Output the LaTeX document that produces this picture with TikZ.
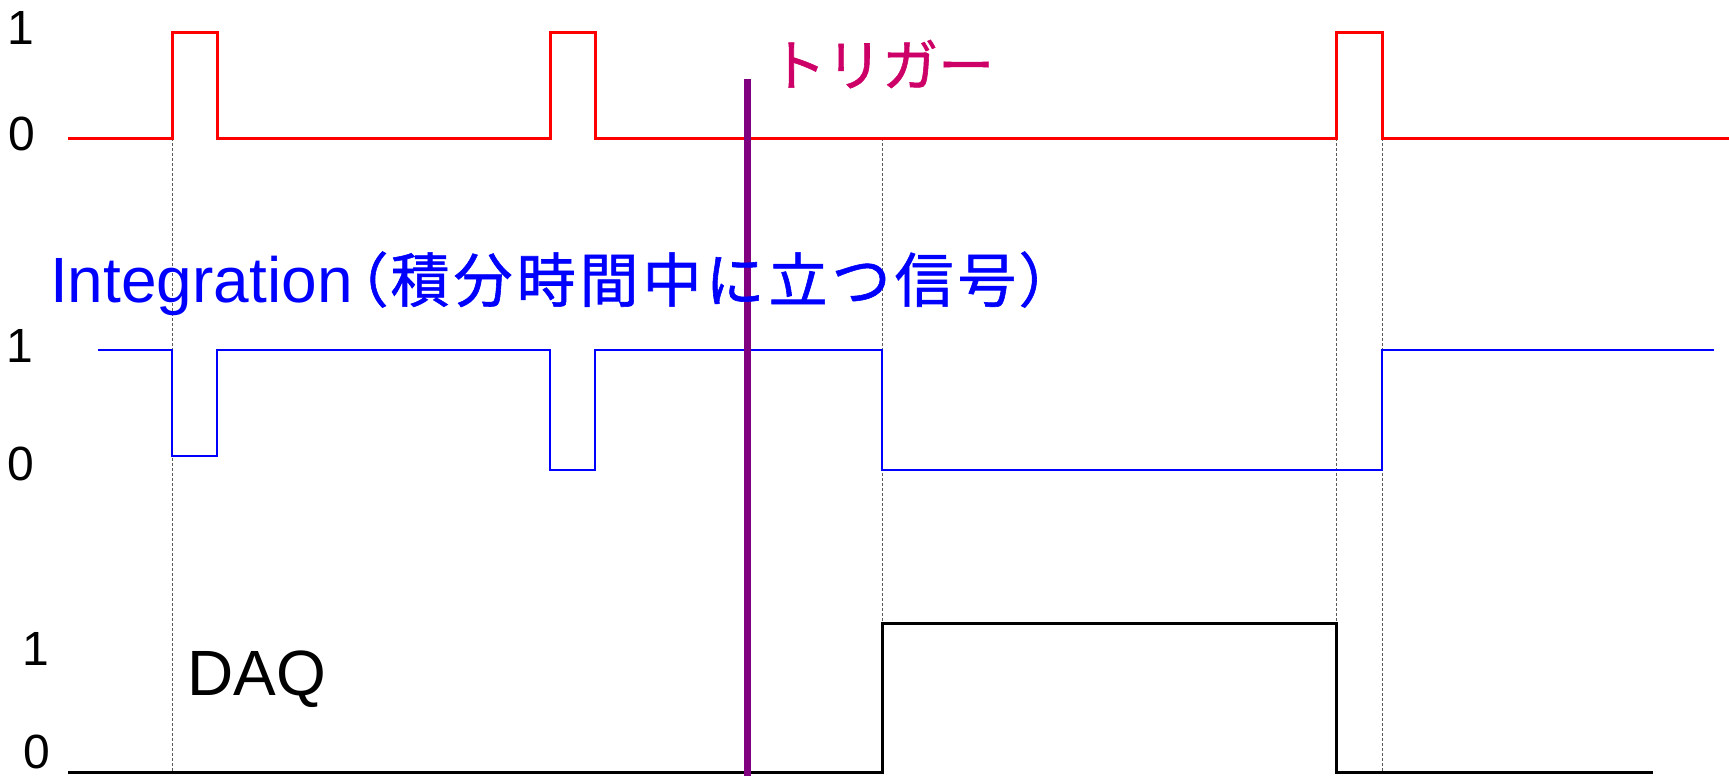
\documentclass[tikz,border=0pt]{standalone}
\usepackage{fontspec}
\setmainfont{Liberation Sans}
\newfontfamily\jp[FakeBold=1]{Noto Sans CJK JP}
\definecolor{trig}{RGB}{204,0,102}
\definecolor{purp}{RGB}{128,0,128}
\newcommand\cjbox[1]{\makebox[63pt]{#1}}
\begin{document}
\begin{tikzpicture}[x=1pt,y=-1pt,
  lbl/.style={font=\fontsize{48}{48}\selectfont, inner sep=0, anchor=base},
  guide/.style={draw=black!65, line width=0.8pt, dash pattern=on 3pt off 2pt},
  redsig/.style={draw=red, line width=3pt},
  bluesig/.style={draw=blue, line width=2.8pt},
  blacksig/.style={draw=black, line width=3pt},
  trigline/.style={draw=purp, line width=7pt},
  title/.style={font=\fontsize{64}{64}\selectfont, inner sep=0, anchor=base west}]
\useasboundingbox (0,0) rectangle (1729,776);
% guides
\coordinate (g1a) at (172,138); \coordinate (g1b) at (172,772);
\coordinate (g2a) at (882,138); \coordinate (g2b) at (882,623);
\coordinate (g3a) at (1336,138); \coordinate (g3b) at (1336,623);
\coordinate (g4a) at (1382,138); \coordinate (g4b) at (1382,772);
\draw[guide] (g1a) -- (g1b);
\draw[guide] (g2a) -- (g2b);
\draw[guide] (g3a) -- (g3b);
\draw[guide] (g4a) -- (g4b);
% trigger signal (red)
\draw[redsig] (68,138) -- (172,138) -- (172,33) -- (217,33) -- (217,138)
  -- (550,138) -- (550,33) -- (595,33) -- (595,138)
  -- (1336,138) -- (1336,33) -- (1382,33) -- (1382,138) -- (1729,138);
% integration signal (blue)
\draw[bluesig] (98,350) -- (172,350) -- (172,456) -- (217,456) -- (217,350)
  -- (550,350) -- (550,470) -- (595,470) -- (595,350)
  -- (882,350) -- (882,470) -- (1382,470) -- (1382,350) -- (1714,350);
% DAQ signal (black)
\draw[blacksig] (68,772) -- (882,772) -- (882,623) -- (1336,623) -- (1336,772) -- (1653,772);
% trigger line
\coordinate (t1) at (747,79); \coordinate (t2) at (747,776);
\draw[trigline] (t1) -- (t2);
% labels
\node[lbl] (r1) at (21,45) {1};
\node[lbl] (r0) at (22,150) {0};
\node[lbl] (b1) at (20,362) {1};
\node[lbl] (b0) at (21,480) {0};
\node[lbl] (d1) at (36,665) {1};
\node[lbl] (d0) at (37,768) {0};
\node[font=\jp\fontsize{56}{56}\selectfont, text=trig, inner sep=0, anchor=base west] (trg) at (770,86) {トリガー};
\node[title, text=blue] (int) at (50,302) {Integration{\jp\fontsize{59}{59}\selectfont\makebox[36pt][r]{（}\cjbox{積}\cjbox{分}\cjbox{時}\cjbox{間}\cjbox{中}\cjbox{に}\cjbox{立}\cjbox{つ}\cjbox{信}\cjbox{号}\makebox[36pt][l]{）}}};
\node[title] (daq) at (187,695) {DAQ};
\end{tikzpicture}
\end{document}
